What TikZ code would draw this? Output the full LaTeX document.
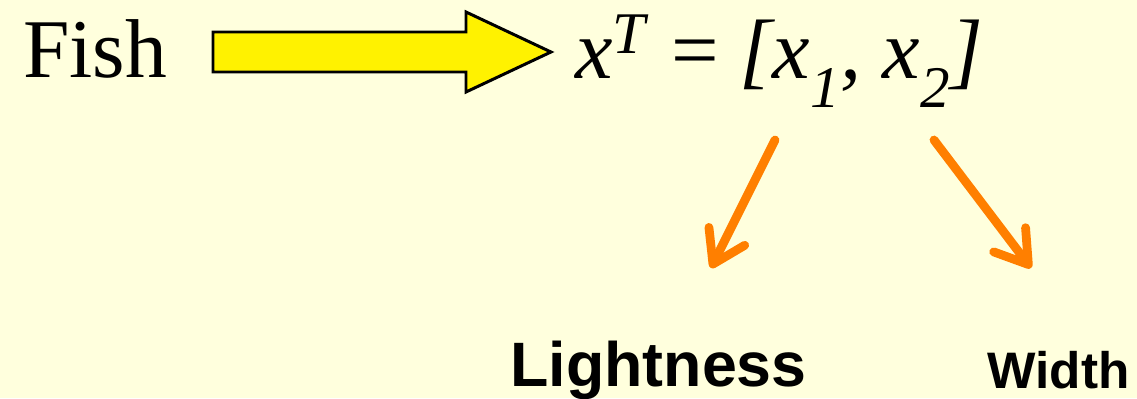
\documentclass[tikz,border=0pt]{standalone}
\usepackage{xcolor}
\usepackage{fontspec}
\usepackage{tikz}
\usetikzlibrary{arrows.meta, positioning}
\setmainfont{Liberation Serif}
\newfontfamily\labelfont{Liberation Sans}
\definecolor{paper}{HTML}{FFFFDD}
\definecolor{pointer}{HTML}{FF7F00}

\begin{document}
\begin{tikzpicture}[>={Straight Barb[round, length=0.62cm, width=0.8cm]}, inner sep=0pt,
    feature/.style={anchor=base west, font=\labelfont\bfseries},
    pick/.style={->, pointer, line width=5pt, line cap=round}]
  % Hintergrund
  \fill[paper] (0,0) rectangle (22.74,7.96);
  \useasboundingbox (0,0) rectangle (22.74,7.96);

  % Fisch und Merkmalsvektor
  \node[anchor=base west, font=\fontsize{47.5}{50}\selectfont] (fish) at (0.46,6.42) {Fish};
  \node[anchor=base west, font=\fontsize{48}{52}\selectfont] (vec) at (11.5,6.38)
    {\textit{x}\raisebox{0.12em}{\textsuperscript{\textit{T}}} = \textit{[x}\raisebox{-0.05em}{\textsubscript{\textit{1}}}\textit{, x}\raisebox{-0.05em}{\textsubscript{\textit{2}}}\textit{]}};

  % Blockpfeil
  \draw[line width=1.7pt, fill=yellow, line join=miter]
    (4.26,7.32) -- (9.32,7.32) -- (9.32,7.72) -- (11.02,6.92)
    -- (9.32,6.12) -- (9.32,6.52) -- (4.26,6.52) -- cycle;

  % Merkmale
  \node[feature, font=\labelfont\bfseries\fontsize{35.7}{40}\selectfont] (light) at (10.2,0.24) {Lightness};
  \node[feature, font=\labelfont\bfseries\fontsize{29.2}{32}\selectfont] (wide) at (19.74,0.2) {Width};

  \coordinate (xone) at (15.5,5.16);
  \coordinate (xtwo) at (18.68,5.16);
  \coordinate (lighttip) at (14.22,2.6);
  \coordinate (widetip) at (20.62,2.6);
  \draw[pick] (xone) -- (lighttip);
  \draw[pick] (xtwo) -- (widetip);
\end{tikzpicture}
\end{document}
